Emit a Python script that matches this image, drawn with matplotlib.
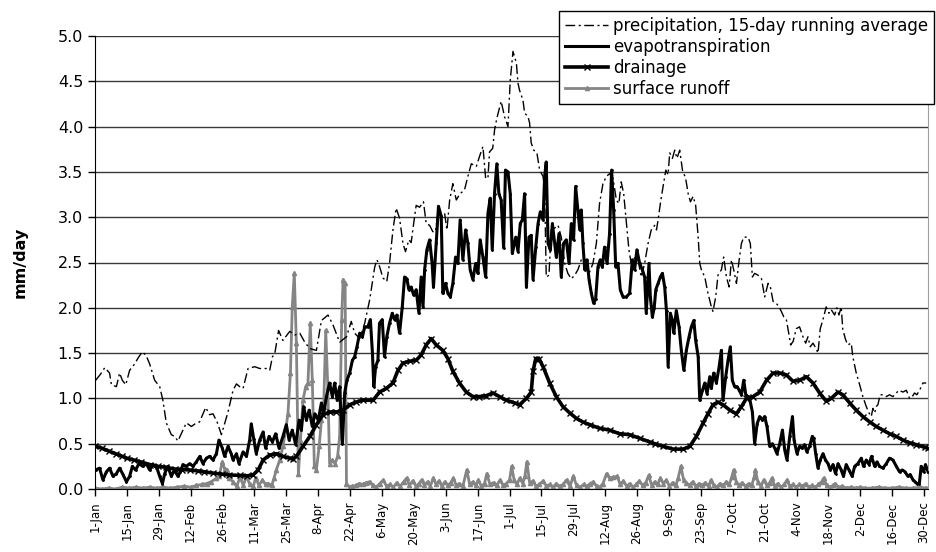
import numpy as np
import matplotlib
matplotlib.use("Agg")
import matplotlib.pyplot as plt

# day of year (0 = 1-Jan, leap year) and value in mm/day
precip = [(0.3,1.20),(2.5,1.27),(4.3,1.34),(6.4,1.28),(7.2,1.15),(9.4,1.13),(10.8,1.28),(12,1.20),(13.5,1.15),
    (15.2,1.31),(17.4,1.38),(19,1.45),(20.8,1.515),(22.5,1.47),(24,1.38),(26.2,1.20),(28.4,1.13),(29.8,0.98),
    (31.3,0.73),(33.5,0.60),(35,0.58),(36.4,0.53),(38.6,0.65),(40.1,0.73),(42.3,0.69),(44,0.72),(45.9,0.74),
    (48.6,0.90),(50.3,0.82),(51.8,0.83),(53.6,0.74),(55.5,0.60),(58.4,0.85),(60.6,1.09),(62.1,1.16),(63.5,1.13),
    (65,1.11),(67.2,1.33),(70.1,1.35),(72.3,1.33),(75.2,1.33),(76.7,1.31),(77.9,1.46),(78.9,1.49),(80.6,1.75),
    (82.5,1.64),(85.5,1.74),(87.7,1.70),(89.9,1.72),(92.1,1.62),(94.3,1.55),(97.2,1.53),(99.4,1.86),(102.3,1.92),
    (104.5,1.81),(107.4,1.62),(110.4,1.68),(112.5,1.85),(114,1.72),(116.2,1.66),(118.4,1.83),(120.6,2.09),
    (122.8,2.45),(123.8,2.53),(125,2.45),(126.4,2.33),(128.1,2.29),(129.3,2.49),(130.8,2.86),(132.2,3.10),
    (133.7,2.99),(135.2,2.71),(136.3,2.62),(137.8,2.75),(138.8,2.72),(139.9,2.93),(141,3.13),(142.5,3.11),
    (144.2,3.17),(145.4,2.93),(146.9,2.91),(148.3,2.84),(149.5,2.84),(150.5,3.04),(152,3.02),(153.5,3.04),
    (154.5,2.86),(155.7,3.19),(157.1,3.37),(158.6,3.19),(160.3,3.26),(162.2,3.30),(163.7,3.45),(165.2,3.59),
    (167.4,3.56),(168.8,3.67),(170.3,3.78),(171.5,3.43),(172.5,3.43),(173.2,3.72),(174.6,3.76),(175.4,3.96),
    (176.4,4.09),(178.3,4.28),(179.8,4.11),(181.3,4.00),(182.3,4.51),(183.5,4.83),(185,4.70),(185.7,4.48),
    (186.4,4.40),(187.9,4.29),(188.6,4.15),(190.1,4.11),(190.8,4.04),(191.5,3.82),(192.6,3.74),(194,3.71),
    (195.2,3.52),(196.7,3.45),(197.4,3.30),(198.1,2.34),(199.3,2.36),(200.3,2.86),(201.8,2.88),(203.3,2.91),
    (204.7,2.78),(206.2,2.49),(207.6,2.38),(209.1,2.32),(210.6,2.36),(212,2.42),(213.5,2.53),(215,2.49),
    (216.9,2.38),(218.6,2.49),(220.1,2.71),(221.5,3.15),(223,3.37),(224.5,3.45),(225.9,3.48),(227.4,3.43),
    (228.9,3.19),(230,3.15),(231,3.39),(232.1,3.26),(233.3,2.93),(234.4,2.64),(235.4,2.49),(236.9,2.55),
    (238.4,2.53),(239.8,2.34),(241.3,2.49),(242.8,2.71),(244.2,2.86),(245.7,2.91),(246.5,2.86),(247.2,2.97),
    (248.2,3.15),(249.4,3.34),(250.6,3.52),(251.6,3.47),(252.3,3.71),(253.5,3.65),(254.5,3.74),(255.5,3.65),
    (256.7,3.74),(257.9,3.52),(259.3,3.43),(260.4,3.26),(261.4,3.17),(262.6,3.23),(263.7,3.13),(264.8,2.78),
    (265.5,2.49),(266.2,2.42),(267.7,2.34),(269.1,2.16),(270.6,2.01),(271.3,1.96),(272.5,2.12),(273.5,2.36),
    (275,2.42),(276,2.56),(277.2,2.34),(278.4,2.23),(279.4,2.53),(280.4,2.42),(281.6,2.27),(282.8,2.53),
    (283.8,2.71),(284.8,2.78),(286.7,2.78),(287.7,2.71),(288.6,2.34),(289.6,2.38),(291.1,2.36),(292.6,2.32),
    (294,2.12),(295.5,2.27),(296.5,2.23),(297.7,2.07),(299.1,2.05),(300.3,2.01),(301.3,1.96),(302.4,1.90),
    (303.5,1.87),(304.7,1.70),(305.4,1.59),(306.5,1.63),(307.9,1.77),(309.3,1.79),(310.8,1.68),(312,1.61),
    (313,1.68),(314,1.57),(315.2,1.61),(316.6,1.55),(317.4,1.50),(318.4,1.77),(319.6,1.87),(321,2.01),
    (322.2,1.94),(323.2,1.98),(324.7,1.92),(325.7,2.0),(326.6,1.92),(327.6,2.01),(328.3,1.76),(329.5,1.65),
    (330.5,1.59),(332,1.61),(332.7,1.46),(334.2,1.28),(335.7,1.15),(337.1,1.02),(338.6,0.91),(339.8,0.84),
    (340.8,0.80),(341.5,0.89),(342.3,0.84),(343,0.91),(343.7,0.93),(344.7,1.04),(345.9,1.04),(347.4,1.02),
    (348.8,1.04),(350.3,1.02),(351.8,1.06),(352.9,1.09),(354.7,1.07),(356.2,1.09),(357.6,1.00),(358.8,1.02),
    (359.8,1.06),(360.8,1.04),(362,1.09),(363.5,1.17),(364.9,1.17)]

evapo = [(0.3,0.21),(2,0.23),(3.5,0.10),(5,0.19),(6.4,0.23),(7.9,0.14),(9.4,0.17),(10.8,0.23),(12.3,0.16),
    (13.8,0.08),(15.2,0.14),(16.4,0.25),(17.8,0.21),(19.3,0.28),(21,0.25),(22.5,0.28),(24,0.21),(25.5,0.27),
    (27.2,0.23),(28.4,0.14),(29.6,0.06),(30.6,0.17),(32,0.25),(33.5,0.14),(34.9,0.21),(36.4,0.14),(37.5,0.19),
    (38.6,0.27),(40.1,0.25),(41.6,0.28),(43,0.25),(44.5,0.30),(46,0.36),(47.4,0.28),(48.9,0.34),(50.3,0.36),
    (51.8,0.32),(53.3,0.39),(54.4,0.54),(55.9,0.45),(56.9,0.36),(58.4,0.47),(59.8,0.39),(60.6,0.32),(62.1,0.39),
    (63.2,0.28),(65,0.41),(66.5,0.36),(67.9,0.54),(68.6,0.72),(69.7,0.55),(70.8,0.39),(72.3,0.54),(73.8,0.63),
    (74.9,0.45),(76.4,0.58),(77.9,0.52),(79.3,0.61),(80.8,0.45),(82.5,0.58),(84,0.71),(85.2,0.54),(86.6,0.65),
    (88.1,0.49),(89.6,0.76),(90.6,0.65),(91.6,0.91),(92.8,0.76),(94,0.87),(95.4,0.69),(96.5,0.83),(98,0.76),
    (99.4,0.95),(100.4,0.83),(101.6,1.02),(103,1.17),(104.2,1.02),(105.2,1.17),(106.3,0.98),(107.4,1.13),
    (108.6,0.50),(109.6,1.06),(110.6,1.20),(111.8,1.28),(113,1.42),(114,1.46),(115,1.57),(116.2,1.72),
    (117.4,1.68),(118.4,1.79),(119.8,1.79),(120.9,1.87),(121.8,1.50),(122.4,1.13),(123.2,1.35),(124.2,1.42),
    (124.9,1.83),(126.1,1.87),(127.1,1.46),(128.1,1.68),(129.3,1.83),(130.5,1.94),(131.5,1.87),(132.5,1.92),
    (133.7,1.72),(134.9,2.01),(135.9,2.34),(136.9,2.32),(137.8,2.20),(138.8,2.23),(139.9,2.14),(141,2.20),
    (142.2,1.94),(143.2,2.34),(144,2.01),(144.7,2.42),(145.7,2.64),(146.9,2.75),(148,2.49),(148.6,2.23),
    (149.8,2.71),(150.8,3.12),(152,3.01),(152.7,2.16),(153.9,2.27),(154.9,2.16),(156,2.12),(157.1,2.27),
    (158.3,2.56),(159.3,2.49),(160.3,2.97),(161.5,2.53),(162.7,2.86),(163.7,2.71),(164.7,2.42),(165.9,2.31),
    (167.1,2.49),(168.1,2.38),(169.1,2.75),(170.3,2.56),(171.5,2.34),(172.5,3.04),(173.5,3.21),(174.4,2.64),
    (175.4,3.26),(176.4,3.59),(177.3,3.26),(178.3,3.19),(179.4,2.66),(180.2,3.52),(181.3,3.50),(182.3,3.26),
    (183.2,2.60),(184.7,2.78),(185.7,2.62),(186.7,2.93),(187.6,2.97),(188.6,3.26),(189.4,2.23),(190.5,2.78),
    (191.5,2.80),(192.3,2.31),(193.5,2.67),(194.5,2.93),(195.5,3.06),(196.7,2.97),(197.4,3.45),(198.1,3.61),
    (198.9,2.71),(199.9,2.64),(200.8,2.93),(201.8,2.71),(202.5,2.56),(203.7,2.82),(204.7,2.34),(205.7,2.71),
    (206.9,2.75),(208.1,2.49),(209.1,2.93),(210.1,2.75),(211,3.34),(212,3.08),(212.8,2.86),(213.5,3.08),
    (214.2,2.71),(215,2.42),(216,2.53),(216.9,2.31),(217.9,2.16),(218.9,2.05),(219.8,2.10),(220.8,2.45),
    (221.8,2.53),(222.7,2.45),(223.7,2.67),(224.8,2.49),(225.9,2.82),(226.8,3.52),(227.7,3.08),(228.6,2.45),
    (229.6,2.49),(230.6,2.20),(231.8,2.12),(233.3,2.12),(234.7,2.16),(235.9,2.53),(236.9,2.42),(237.9,2.64),
    (239.1,2.49),(240.3,2.42),(241.3,2.34),(242,1.94),(243.2,2.49),(243.8,2.12),(244.7,1.90),(245.5,2.0),
    (246.2,2.20),(247.2,2.27),(248.2,2.34),(249.1,2.38),(250.1,2.23),(250.9,1.96),(251.6,1.35),(252.6,1.94),
    (253.5,1.86),(254.1,1.72),(255.2,1.97),(256.4,1.79),(257.4,1.53),(258.5,1.31),(259.6,1.53),(260.8,1.68),
    (261.8,1.79),(262.9,1.86),(263.7,1.64),(264.8,1.46),(265.5,0.98),(266.7,1.09),(267.7,1.17),(268.7,1.05),
    (269.9,1.24),(270.6,1.11),(271.6,1.28),(272.8,1.17),(274,1.35),(275,1.53),(275.7,0.98),(276.9,1.24),
    (277.9,1.42),(278.9,1.57),(279.8,1.20),(280.8,1.13),(281.9,1.13),(282.8,1.09),(283.8,1.04),(284.8,1.20),
    (285.7,1.04),(286.7,1.02),(287.7,0.96),(288.6,0.85),(289.6,0.50),(290.7,0.72),(291.8,0.80),(293,0.76),
    (294,0.80),(295,0.69),(296.2,0.47),(297.4,0.50),(298.4,0.45),(299.4,0.39),(300.6,0.50),(301.8,0.65),
    (302.8,0.43),(303.8,0.32),(305,0.58),(306.2,0.80),(306.9,0.54),(308.2,0.39),(309.3,0.47),(310.5,0.45),
    (311.5,0.49),(312.5,0.41),(313.7,0.47),(314.9,0.58),(315.5,0.56),(316.4,0.39),(317.4,0.23),(318.4,0.32),
    (319.6,0.39),(320.7,0.32),(321.8,0.28),(322.8,0.21),(324,0.27),(325.1,0.17),(326.2,0.28),(327.6,0.21),
    (328.6,0.14),(329.8,0.27),(331,0.21),(332.4,0.14),(333.5,0.25),(334.9,0.28),(336.4,0.34),(337.4,0.25),
    (338.6,0.32),(339.8,0.27),(340.9,0.36),(342.3,0.25),(343.3,0.30),(344.4,0.25),(345.9,0.23),(347.4,0.28),
    (348.8,0.34),(350.3,0.32),(351.8,0.25),(353.2,0.19),(354.4,0.21),(355.6,0.19),(356.9,0.14),(357.9,0.16),
    (359.1,0.10),(360,0.08),(360.8,0.06),(361.9,0.06),(362.7,0.25),(363.8,0.19),(364.6,0.27),(365.7,0.19)]

drainage = [(0,0.475),(3,0.45),(6,0.42),(9,0.39),(12,0.36),(14,0.34),(17,0.32),(20,0.30),(24,0.27),(27.7,0.25),
    (31,0.24),(35,0.22),(38,0.215),(41.7,0.21),(45,0.20),(48,0.19),(52,0.175),(55.6,0.165),(59,0.155),(63.5,0.15),
    (66.6,0.145),(69.4,0.155),(71.6,0.21),(73.8,0.32),(76.7,0.375),(79.6,0.39),(82.5,0.36),(85.5,0.34),(87,0.33),
    (88.4,0.36),(91.3,0.47),(94.3,0.58),(97.2,0.71),(100.1,0.82),(103,0.85),(106,0.85),(108.9,0.87),(111.8,0.93),
    (114.7,0.96),(117.7,0.98),(122.1,0.98),(124.9,1.07),(127.9,1.11),(130.8,1.17),(133,1.31),(135.2,1.39),
    (138.1,1.41),(141,1.42),(143.2,1.48),(145.4,1.59),(147.6,1.66),(149.8,1.59),(152.7,1.53),(154.9,1.44),
    (157.1,1.30),(160,1.17),(163,1.07),(165.9,1.02),(168.8,1.02),(171.8,1.03),(174.7,1.06),(177.6,1.02),
    (180.5,0.98),(184.2,0.95),(186.4,0.93),(189.4,1.00),(191.5,1.07),(192.3,1.30),(193.5,1.44),(194.9,1.44),
    (196.7,1.35),(199.6,1.17),(202.5,1.02),(205.4,0.91),(208.4,0.84),(211.3,0.78),(214.2,0.74),(217.2,0.71),
    (221.5,0.67),(225.9,0.65),(230.3,0.61),(234.7,0.60),(239.1,0.56),(243.5,0.52),(245.7,0.50),(249.4,0.47),
    (253.8,0.44),(258.2,0.44),(261.1,0.47),(264,0.58),(267,0.73),(269.1,0.83),(271.3,0.93),(273.5,0.96),
    (275.7,0.93),(278.7,0.87),(281.6,0.83),(283.8,0.91),(286,1.00),(288.9,1.02),(291.8,1.07),(294.8,1.20),
    (297.7,1.28),(300.6,1.28),(303.5,1.26),(306.4,1.19),(309.3,1.20),(312.3,1.24),(315.2,1.17),(318.1,1.06),
    (321,0.97),(323.2,1.00),(326.2,1.07),(328.3,1.04),(331.3,0.95),(334.2,0.87),(337.1,0.80),(340.1,0.74),
    (343,0.69),(345.9,0.65),(348.8,0.61),(351.8,0.58),(354.7,0.54),(357.6,0.51),(360.5,0.49),(364.2,0.46),
    (365.7,0.45)]

runoff = [(0,0.01),(3,0.0),(6,0.01),(9,0.0),(12,0.02),(15,0.01),(18,0.02),(21,0.01),(24,0.02),(27,0.01),
    (30,0.02),(33,0.01),(36,0.02),(39,0.03),(42,0.02),(44.5,0.04),(47,0.05),(49,0.06),(51,0.08),(53.3,0.12),
    (54.5,0.14),(55.9,0.30),(56.9,0.22),(57.8,0.21),(59,0.12),(60.6,0.08),(62.2,0.03),(63.7,0.13),(65.1,0.04),
    (66.5,0.14),(68,0.05),(69.5,0.03),(70.5,0.12),(72,0.04),(73.5,0.10),(74.9,0.05),(76.1,0.06),(77.6,0.04),
    (78.6,0.12),(79.6,0.21),(81.1,0.32),(82.5,0.47),(83.7,0.65),(84.7,0.83),(85.8,1.28),(86.6,2.01),(87.5,2.38),
    (88.4,1.61),(89.3,0.17),(90.2,0.54),(91.3,0.98),(92.5,1.13),(93.5,1.17),(94.5,1.83),(95.4,1.20),(96.3,0.25),
    (97.2,0.21),(98.4,0.47),(99.4,0.76),(100.4,0.91),(101.3,1.75),(102.2,1.13),(103,0.28),(104.2,0.32),
    (105.4,0.28),(106.5,0.36),(107.4,0.58),(108.3,1.87),(108.9,2.31),(109.8,2.27),(110.4,0.06),(111.8,0.02),
    (113,0.03),(114.7,0.04),(116,0.06),(117.7,0.05),(119,0.07),(120.6,0.08),(122.1,0.04),(123.5,0.02),(125,0.06),
    (126.6,0.10),(128,0.03),(129.5,0.05),(131,0.02),(132.5,0.07),(134,0.03),(135.5,0.08),(136.8,0.12),(138,0.04),
    (139.5,0.09),(141,0.03),(142.2,0.06),(143.4,0.10),(144.6,0.04),(146,0.08),(147.2,0.03),(148.5,0.12),
    (149.8,0.05),(151,0.09),(152.3,0.03),(153.6,0.08),(155,0.04),(156.2,0.07),(157.3,0.12),(158.6,0.04),
    (160,0.06),(161.5,0.03),(163.2,0.21),(164.5,0.05),(166,0.08),(167.2,0.04),(168.3,0.10),(169.6,0.03),
    (171,0.06),(172,0.17),(173.4,0.05),(175,0.07),(176.4,0.04),(177.8,0.10),(179.2,0.04),(180.6,0.06),(182,0.10),
    (182.9,0.25),(184,0.10),(185.2,0.05),(186.5,0.12),(187.8,0.06),(188.7,0.14),(189.6,0.30),(190.8,0.07),
    (192.4,0.09),(193.6,0.03),(195,0.05),(196.8,0.09),(198.2,0.03),(199.6,0.05),(201,0.02),(202.5,0.06),
    (204,0.03),(205.5,0.05),(207,0.10),(208.5,0.03),(210,0.14),(211.4,0.04),(213,0.02),(214.5,0.05),(216,0.03),
    (217.4,0.06),(218.8,0.08),(220.2,0.03),(221.6,0.02),(223,0.06),(224.6,0.17),(225.9,0.12),(227.5,0.13),
    (229.2,0.14),(230.6,0.05),(232,0.09),(233.4,0.03),(234.8,0.06),(236.2,0.02),(237.6,0.05),(239,0.09),
    (240.4,0.04),(241.8,0.07),(243.1,0.15),(244.4,0.04),(245.8,0.08),(247,0.05),(248.2,0.12),(249.5,0.06),
    (250.8,0.10),(252.2,0.03),(253.6,0.07),(255,0.04),(256,0.12),(257.2,0.25),(258.4,0.10),(259.6,0.07),
    (261,0.04),(262.4,0.08),(263.8,0.03),(265.2,0.06),(266.6,0.04),(268,0.07),(269.4,0.03),(270.4,0.10),
    (271.6,0.04),(273,0.02),(274.4,0.06),(275.8,0.04),(277.2,0.08),(278.5,0.05),(279.5,0.13),(280.4,0.21),
    (281.5,0.08),(282.8,0.04),(284.2,0.07),(285.6,0.03),(287,0.06),(288.3,0.04),(289.4,0.13),(289.9,0.21),
    (291,0.08),(292.3,0.03),(293.6,0.10),(295,0.04),(296.2,0.07),(297.2,0.12),(298.4,0.03),(299.8,0.06),
    (301.2,0.02),(302.6,0.05),(303.8,0.10),(305,0.03),(306.4,0.05),(307.8,0.02),(309.2,0.05),(310.6,0.03),
    (312,0.06),(313.4,0.02),(314.8,0.04),(316.2,0.02),(317.6,0.05),(319,0.08),(319.9,0.12),(321.2,0.04),
    (322.6,0.02),(324,0.04),(325,0.06),(326.4,0.02),(328,0.03),(330,0.01),(332,0.02),(334,0.01),(336,0.02),
    (338,0.01),(341,0.01),(344,0.02),(347,0.01),(350,0.01),(353,0.02),(356,0.01),(359,0.01),(362,0.02),(365,0.01)]

tick_labels = ["1-Jan", "15-Jan", "29-Jan", "12-Feb", "26-Feb", "11-Mar", "25-Mar", "8-Apr", "22-Apr",
               "6-May", "20-May", "3-Jun", "17-Jun", "1-Jul", "15-Jul", "29-Jul", "12-Aug", "26-Aug",
               "9-Sep", "23-Sep", "7-Oct", "21-Oct", "4-Nov", "18-Nov", "2-Dec", "16-Dec", "30-Dec"]

def split(pts):
    a = np.array(pts)
    return a[:, 0], a[:, 1]

plt.rcParams['font.family'] = 'DejaVu Sans'

fig = plt.figure(figsize=(9.37, 5.52), dpi=100)
ax = fig.add_axes([95 / 937, 1 - 489 / 552, 833 / 937, 453 / 552])

x, y = split(precip)
ax.plot(x, y, color='black', lw=1.0, ls=(0, (7, 2.5, 1.5, 2.5)),
        label='precipitation, 15-day running average', zorder=3)
x, y = split(evapo)
ax.plot(x, y, color='black', lw=2.2, marker='.', ms=2,
        label='evapotranspiration', zorder=4)
x, y = split(drainage)
ax.plot(x, y, color='black', lw=2.6, marker='x', ms=4, mew=1.0,
        label='drainage', zorder=3)
x, y = split(runoff)
ax.plot(x, y, color='#858585', lw=2.0, marker='^', ms=3,
        label='surface runoff', zorder=2)

ax.set_xlim(0, 365.7)
ax.set_ylim(0, 5)
ax.set_yticks(np.arange(0, 5.01, 0.5))
ax.set_yticklabels([f"{v:.1f}" for v in np.arange(0, 5.01, 0.5)], fontsize=11.5)
ax.set_xticks(np.arange(len(tick_labels)) * 14)
ax.set_xticklabels(tick_labels, rotation=90, fontsize=8.5)
ax.tick_params(axis='both', direction='out', length=5, width=1, color='black')
ax.tick_params(axis='x', pad=4)
ax.yaxis.grid(True, color='#3a3a3a', lw=1.0)
ax.set_axisbelow(True)
ax.spines['top'].set_visible(False)
ax.spines['right'].set_color('#a0a0a0')
ax.spines['left'].set_color('black')
ax.spines['bottom'].set_color('black')

ax.set_ylabel('mm/day', fontsize=11.5, fontweight='bold', labelpad=22)

# legend box runs to the right edge of the figure, as in the original
leg = ax.legend(loc='upper left', bbox_to_anchor=(559 / 937, 1 - 11 / 552),
                bbox_transform=fig.transFigure, borderaxespad=0, fontsize=12.0,
                frameon=True, fancybox=False, framealpha=1, edgecolor='black',
                handlelength=2.6, handletextpad=0.3, labelspacing=0.18, borderpad=0.35)
leg.get_frame().set_linewidth(1.0)

fig.savefig('out.png', dpi=100)
